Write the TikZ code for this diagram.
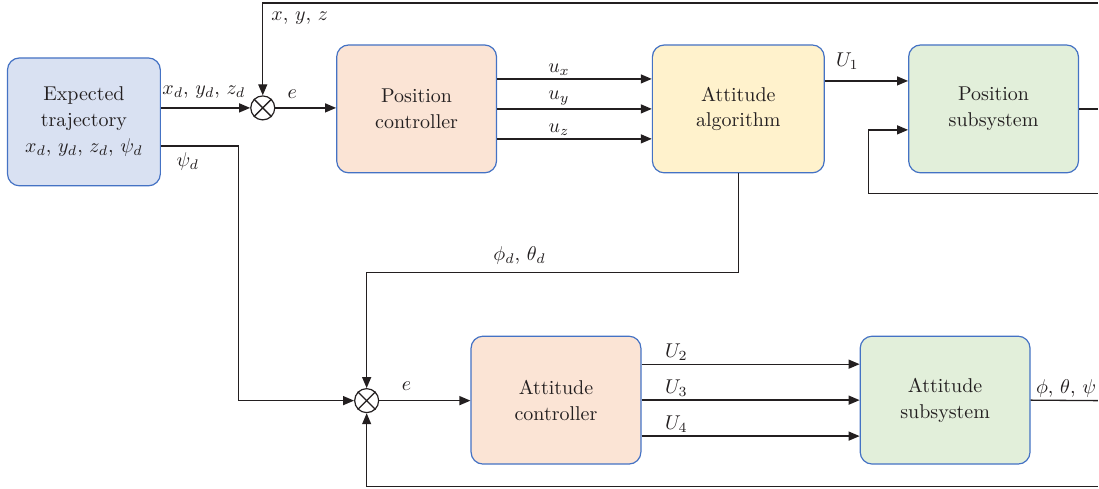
\documentclass[tikz,border=0pt]{standalone}
\usetikzlibrary{arrows.meta,positioning,calc}
\definecolor{ink}{HTML}{231F20}
\definecolor{edgeBlue}{HTML}{4472C4}
\definecolor{blueFill}{HTML}{D9E1F2}
\definecolor{peachFill}{HTML}{FBE4D5}
\definecolor{yellowFill}{HTML}{FFF2CC}
\definecolor{greenFill}{HTML}{E2EFDA}
\tikzset{
  block/.style={rounded corners=6pt,draw=edgeBlue,line width=0.6pt,
    fill=peachFill,text=ink,align=center,minimum width=85pt,
    minimum height=64pt,inner sep=0pt},
  sumjoint/.style={circle,draw=ink,line width=0.6pt,minimum size=12pt,
    inner sep=0pt},
  flow/.style={-{Triangle[length=5.5pt,width=4.5pt]},draw=ink,line width=0.65pt},
  wire/.style={draw=ink,line width=0.65pt},
  sig/.style={text=ink,inner sep=1.5pt}
}
\begin{document}
\begin{tikzpicture}[x=0.5pt,y=-0.5pt,font=\fontsize{10}{13}\selectfont]
  \node[block,fill=blueFill,minimum width=76.5pt] (traj) at (84,122)
    {Expected\\trajectory\\$x_d$, $y_d$, $z_d$, $\psi_d$};
  \node[sumjoint] (sum1) at (263,108) {};
  \node[block,minimum width=80pt] (posctrl) at (417,109)
    {Position\\controller};
  \node[block,fill=yellowFill,minimum width=86pt] (attalg) at (739,109)
    {Attitude\\algorithm};
  \node[block,fill=greenFill] (possub) at (994.5,109)
    {Position\\subsystem};
  \node[sumjoint] (sum2) at (367,401) {};
  \node[block] (attctrl) at (556.5,400.5)
    {Attitude\\controller};
  \node[block,fill=greenFill] (attsub) at (946,400.5)
    {Attitude\\subsystem};

  \foreach \s in {sum1,sum2}
    \draw[wire] (\s.north east) -- (\s.south west)
      (\s.north west) -- (\s.south east);

  % Position loop: reference, error, controller outputs.
  \draw[flow] (sum1 -| traj.east) -- (sum1.west)
    node[sig,pos=0.48,above=3pt] {$x_d$, $y_d$, $z_d$};
  \draw[flow] (sum1.east) -- (sum1 -| posctrl.west)
    node[sig,pos=0.28,above=3pt] {$e$};
  \coordinate (topR) at (1099,3);
  \draw[flow] (topR) -| (sum1.north);
  \node[sig] at (300,18) {$x$, $y$, $z$};
  \foreach \dy/\lab in {-30/x,0/y,30/z}
    \draw[flow] ($(posctrl.east)+(0,\dy)$) -- ($(attalg.west)+(0,\dy)$)
      node[sig,pos=0.4,above] {$u_\lab$};
  \draw[flow] ($(attalg.east)+(0,-28)$) -- ($(possub.west)+(0,-28)$)
    node[sig,pos=0.27,above=4pt] {$U_1$};
  \coordinate (posOut) at (1099,109);
  \draw[wire] (possub.east) -- (posOut);
  \coordinate (loopR) at (1099,194);
  \coordinate (loopL) at (869,194);
  \draw[flow] (loopR) -- (loopL) |- ($(possub.west)+(0,21)$);

  % Attitude loop: desired angles merge into the second junction.
  \coordinate (psiC) at (239,146);
  \draw[flow] (traj.east |- psiC) -- (psiC) |- (sum2.west);
  \node[sig] at (188,162) {$\psi_d$};
  \coordinate (phiC) at (739,273);
  \draw[flow] (attalg.south) -- (phiC) -| (sum2.north);
  \node[sig] at (520,256) {$\phi_d$, $\theta_d$};
  \draw[flow] (sum2.east) -- (sum2 -| attctrl.west)
    node[sig,pos=0.3,above=3pt] {$e$};
  \foreach \dy/\lab in {-36/2,0/3,36/4}
    \draw[flow] ($(attctrl.east)+(0,\dy)$) -- ($(attsub.west)+(0,\dy)$)
      node[sig,pos=0.16,above] {$U_\lab$};
  \coordinate (attOut) at (1099,401);
  \draw[wire] (attsub.east) -- (attOut);
  \node[sig] at (1067,389) {$\phi$, $\theta$, $\psi$};
  \coordinate (botR) at (1099,487);
  \draw[flow] (botR) -| (sum2.south);

  \path[use as bounding box] (0,0) rectangle (1099,489);
\end{tikzpicture}
\end{document}
